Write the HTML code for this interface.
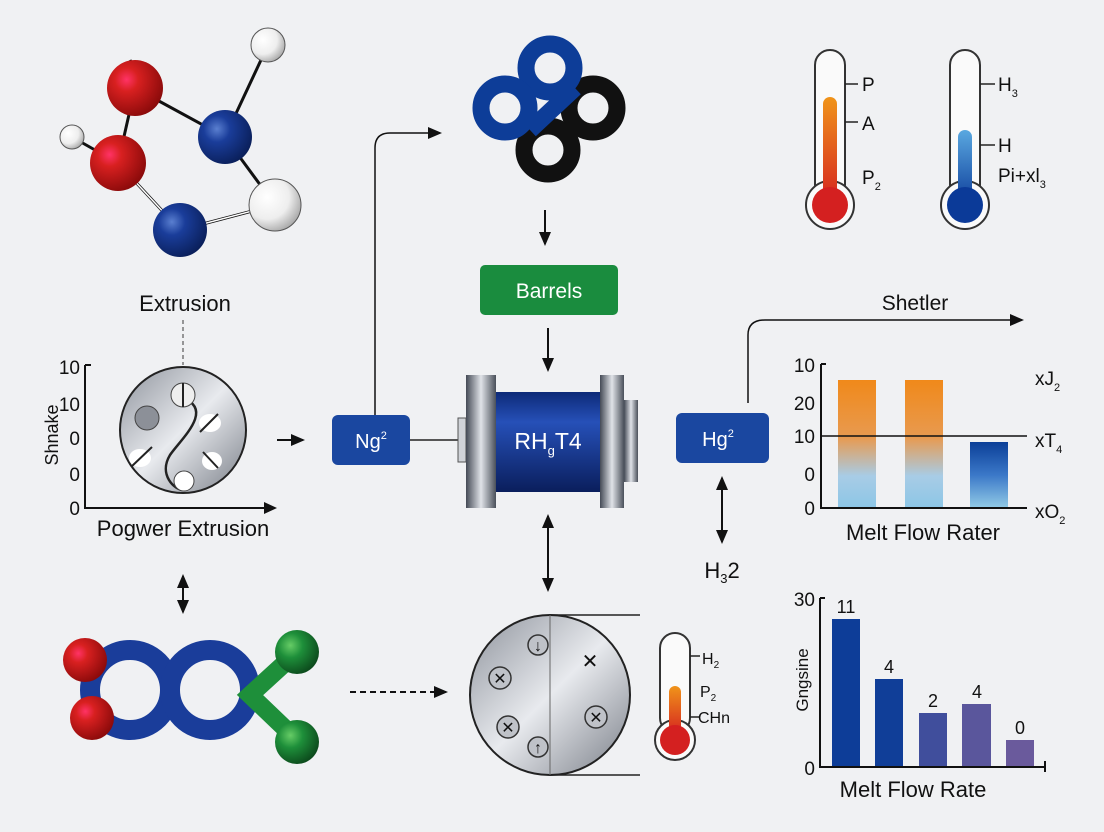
<!DOCTYPE html>
<html><head><meta charset="utf-8"><style>
html,body{margin:0;padding:0;background:#f0f1f3;}
svg{display:block;font-family:"Liberation Sans",sans-serif;}
</style></head><body>
<svg width="1104" height="832" viewBox="0 0 1104 832" xmlns="http://www.w3.org/2000/svg">
<defs>
<radialGradient id="red" cx="35%" cy="35%" r="70%"><stop offset="0" stop-color="#f36"/><stop offset="0.3" stop-color="#d82020"/><stop offset="1" stop-color="#8a0a0a"/></radialGradient>
<radialGradient id="blu" cx="35%" cy="35%" r="70%"><stop offset="0" stop-color="#5a7fd0"/><stop offset="0.35" stop-color="#1a3d9a"/><stop offset="1" stop-color="#0a1f5a"/></radialGradient>
<radialGradient id="wht" cx="35%" cy="35%" r="70%"><stop offset="0" stop-color="#fff"/><stop offset="0.6" stop-color="#eee"/><stop offset="1" stop-color="#aaa"/></radialGradient>
<radialGradient id="grn" cx="35%" cy="35%" r="70%"><stop offset="0" stop-color="#6c6"/><stop offset="0.4" stop-color="#1e8f3a"/><stop offset="1" stop-color="#0c4a1c"/></radialGradient>
<linearGradient id="disc" x1="0" y1="0" x2="1" y2="1"><stop offset="0" stop-color="#8e939c"/><stop offset="0.5" stop-color="#e8eaee"/><stop offset="1" stop-color="#7a7f88"/></linearGradient>
<linearGradient id="body" x1="0" y1="0" x2="0" y2="1"><stop offset="0" stop-color="#0d2a78"/><stop offset="0.3" stop-color="#2650b8"/><stop offset="1" stop-color="#0a1e5c"/></linearGradient>
<linearGradient id="flange" x1="0" y1="0" x2="1" y2="0"><stop offset="0" stop-color="#444a55"/><stop offset="0.5" stop-color="#e0e3e8"/><stop offset="1" stop-color="#4a505a"/></linearGradient>
<linearGradient id="orb" x1="0" y1="0" x2="0" y2="1"><stop offset="0" stop-color="#f0891a"/><stop offset="0.45" stop-color="#e89a50"/><stop offset="0.75" stop-color="#a8cce6"/><stop offset="1" stop-color="#8cc6e6"/></linearGradient>
<linearGradient id="bb" x1="0" y1="0" x2="0" y2="1"><stop offset="0" stop-color="#0b3f98"/><stop offset="0.5" stop-color="#3b78c8"/><stop offset="1" stop-color="#92cbe6"/></linearGradient>
<linearGradient id="tr" x1="0" y1="0" x2="0" y2="1"><stop offset="0" stop-color="#f0941a"/><stop offset="1" stop-color="#d42020"/></linearGradient>
<linearGradient id="tb" x1="0" y1="0" x2="0" y2="1"><stop offset="0" stop-color="#5aa8e0"/><stop offset="1" stop-color="#0b3a98"/></linearGradient>
<marker id="ah" markerWidth="14" markerHeight="14" refX="12" refY="7" orient="auto" markerUnits="userSpaceOnUse"><path d="M0,1 L14,7 L0,13 z" fill="#111"/></marker>
<marker id="ahs" markerWidth="14" markerHeight="14" refX="2" refY="7" orient="auto" markerUnits="userSpaceOnUse"><path d="M14,1 L0,7 L14,13 z" fill="#111"/></marker>
</defs>
<rect width="1104" height="832" fill="#f0f1f3"/>

<g stroke="#111" stroke-width="3" fill="none">
<line x1="135" y1="88" x2="118" y2="163"/><line x1="135" y1="88" x2="225" y2="137"/>
<line x1="225" y1="137" x2="268" y2="45"/><line x1="72" y1="137" x2="118" y2="163"/>
<line x1="118" y1="163" x2="180" y2="230"/><line x1="225" y1="137" x2="275" y2="205"/>
<line x1="180" y1="230" x2="275" y2="205"/><line x1="130" y1="60" x2="140" y2="80"/>
</g>
<g stroke="#fff" stroke-width="1.5"><line x1="118" y1="163" x2="180" y2="230"/><line x1="180" y1="230" x2="275" y2="205"/></g>
<circle cx="268" cy="45" r="17" fill="url(#wht)" stroke="#555"/>
<circle cx="72" cy="137" r="12" fill="url(#wht)" stroke="#555"/>
<circle cx="135" cy="88" r="28" fill="url(#red)"/>
<circle cx="118" cy="163" r="28" fill="url(#red)"/>
<circle cx="225" cy="137" r="27" fill="url(#blu)"/>
<circle cx="275" cy="205" r="26" fill="url(#wht)" stroke="#555"/>
<circle cx="180" cy="230" r="27" fill="url(#blu)"/>

<text x="185" y="311" font-size="22" text-anchor="middle" fill="#111">Extrusion</text>
<line x1="183" y1="320" x2="183" y2="365" stroke="#777" stroke-width="1.5" stroke-dasharray="4,3"/>

<g stroke="#111" stroke-width="2" fill="none"><polyline points="85,365 85,508 268,508"/><line x1="85" y1="365" x2="91" y2="365"/></g>
<path d="M264,502 L277,508 L264,514z" fill="#111"/>
<g font-size="19" fill="#111" text-anchor="end"><text x="80" y="374">10</text><text x="80" y="411">10</text><text x="80" y="445">0</text><text x="80" y="481">0</text><text x="80" y="515">0</text></g>
<text transform="translate(58,435) rotate(-90)" font-size="18" text-anchor="middle" fill="#111">Shnake</text>
<circle cx="183" cy="430" r="63" fill="url(#disc)" stroke="#222" stroke-width="2"/>
<path d="M183,398 C215,410 180,440 170,455 C158,475 175,490 183,490" stroke="#222" stroke-width="2.5" fill="none"/>
<circle cx="183" cy="395" r="12" fill="#eee" stroke="#444"/><line x1="183" y1="383" x2="183" y2="407" stroke="#222" stroke-width="2"/>
<circle cx="147" cy="418" r="12" fill="#8c9098" stroke="#444"/>
<ellipse cx="210" cy="423" rx="11" ry="9" fill="#fff"/><line x1="200" y1="432" x2="218" y2="414" stroke="#222" stroke-width="2"/>
<ellipse cx="140" cy="458" rx="11" ry="9" fill="#fff"/><line x1="131" y1="467" x2="152" y2="447" stroke="#222" stroke-width="2"/>
<ellipse cx="212" cy="461" rx="10" ry="9" fill="#fff"/><line x1="203" y1="452" x2="218" y2="468" stroke="#222" stroke-width="2"/>
<circle cx="184" cy="481" r="10" fill="#fff" stroke="#444"/>
<text x="183" y="536" font-size="22" text-anchor="middle" fill="#111">Pogwer Extrusion</text>
<line x1="183" y1="576" x2="183" y2="612" stroke="#111" stroke-width="2" marker-end="url(#ah)" marker-start="url(#ahs)"/>

<circle cx="130" cy="690" r="40" fill="none" stroke="#1a3d9a" stroke-width="20"/>
<circle cx="210" cy="690" r="40" fill="none" stroke="#1a3d9a" stroke-width="20"/>
<polyline points="297,652 250,695 297,740" fill="none" stroke="#1e8f3a" stroke-width="18"/>
<circle cx="85" cy="660" r="22" fill="url(#red)"/>
<circle cx="92" cy="718" r="22" fill="url(#red)"/>
<circle cx="297" cy="652" r="22" fill="url(#grn)"/>
<circle cx="297" cy="742" r="22" fill="url(#grn)"/>

<line x1="277" y1="440" x2="303" y2="440" stroke="#111" stroke-width="2" marker-end="url(#ah)"/>
<line x1="350" y1="692" x2="446" y2="692" stroke="#111" stroke-width="2" stroke-dasharray="6,4" marker-end="url(#ah)"/>

<rect x="332" y="415" width="78" height="50" rx="6" fill="#1a47a0"/>
<text x="371" y="448" font-size="20" fill="#fff" text-anchor="middle">Ng<tspan font-size="11" dy="-9">2</tspan></text>
<line x1="410" y1="440" x2="462" y2="440" stroke="#222" stroke-width="1.5"/>
<path d="M375,415 L375,148 Q375,133 390,133 L440,133" fill="none" stroke="#111" stroke-width="1.5" marker-end="url(#ah)"/>

<g fill="none" stroke-width="17">
<circle cx="593" cy="108" r="24" stroke="#111"/>
<circle cx="548" cy="150" r="24" stroke="#111"/>
<circle cx="550" cy="68" r="24" stroke="#0d3d98"/>
<circle cx="505" cy="108" r="24" stroke="#0d3d98"/>
<line x1="530" y1="130" x2="575" y2="88" stroke="#0d3d98"/>
</g>
<line x1="545" y1="210" x2="545" y2="244" stroke="#111" stroke-width="2" marker-end="url(#ah)"/>
<rect x="480" y="265" width="138" height="50" rx="5" fill="#1a8c3e"/>
<text x="549" y="298" font-size="21" fill="#fff" text-anchor="middle">Barrels</text>
<line x1="548" y1="328" x2="548" y2="370" stroke="#111" stroke-width="2" marker-end="url(#ah)"/>

<rect x="458" y="418" width="8" height="44" fill="#d0d3d8" stroke="#555"/>
<rect x="466" y="375" width="30" height="133" fill="url(#flange)"/>
<rect x="496" y="392" width="104" height="100" fill="url(#body)"/>
<rect x="600" y="375" width="24" height="133" fill="url(#flange)"/>
<rect x="624" y="400" width="14" height="82" fill="url(#flange)"/>
<text x="548" y="449" font-size="23" fill="#fff" text-anchor="middle">RH<tspan font-size="13" dy="6">g</tspan><tspan dy="-6">T4</tspan></text>
<line x1="548" y1="516" x2="548" y2="590" stroke="#111" stroke-width="2" marker-end="url(#ah)" marker-start="url(#ahs)"/>

<line x1="550" y1="615" x2="640" y2="615" stroke="#222" stroke-width="1.5"/>
<line x1="550" y1="775" x2="640" y2="775" stroke="#222" stroke-width="1.5"/>
<circle cx="550" cy="695" r="80" fill="url(#disc)" stroke="#222" stroke-width="2"/>
<line x1="550" y1="615" x2="550" y2="775" stroke="#666" stroke-width="1"/>
<g fill="#bfc2c8" stroke="#333" stroke-width="1.5">
<circle cx="538" cy="645" r="10"/><circle cx="500" cy="678" r="11"/><circle cx="508" cy="727" r="11"/><circle cx="596" cy="717" r="11"/><circle cx="538" cy="747" r="10"/>
</g>
<g font-size="16" fill="#111" text-anchor="middle"><text x="538" y="651">↓</text><text x="500" y="684">✕</text><text x="508" y="733">✕</text><text x="596" y="723">✕</text><text x="538" y="753">↑</text><text x="590" y="668" font-size="20">✕</text></g>

<rect x="660" y="633" width="30" height="100" rx="15" fill="#fafafa" stroke="#333" stroke-width="2"/>
<circle cx="675" cy="740" r="20" fill="#fafafa" stroke="#333" stroke-width="2"/>
<rect x="669" y="686" width="12" height="50" rx="6" fill="url(#tr)"/>
<circle cx="675" cy="740" r="15" fill="#d42020"/>
<g stroke="#222" stroke-width="1.5"><line x1="690" y1="656" x2="700" y2="656"/><line x1="690" y1="717" x2="700" y2="717"/></g>
<g font-size="16" fill="#111"><text x="702" y="664">H<tspan font-size="10" dy="4">2</tspan></text><text x="700" y="697">P<tspan font-size="10" dy="4">2</tspan></text><text x="698" y="723">CHn</text></g>

<rect x="676" y="413" width="93" height="50" rx="6" fill="#1a47a0"/>
<text x="718" y="446" font-size="20" fill="#fff" text-anchor="middle">Hg<tspan font-size="11" dy="-9">2</tspan></text>
<path d="M748,403 L748,335 Q748,320 765,320 L1022,320" fill="none" stroke="#111" stroke-width="1.5" marker-end="url(#ah)"/>
<text x="915" y="310" font-size="21" text-anchor="middle" fill="#111">Shetler</text>
<line x1="722" y1="478" x2="722" y2="542" stroke="#111" stroke-width="2" marker-end="url(#ah)" marker-start="url(#ahs)"/>
<text x="722" y="578" font-size="22" text-anchor="middle" fill="#111">H<tspan font-size="13" dy="5">3</tspan><tspan dy="-5">2</tspan></text>

<rect x="838" y="380" width="38" height="128" fill="url(#orb)"/>
<rect x="905" y="380" width="38" height="128" fill="url(#orb)"/>
<rect x="970" y="442" width="38" height="66" fill="url(#bb)"/>
<g stroke="#111" stroke-width="2" fill="none"><polyline points="821,364 821,508 1027,508"/><line x1="821" y1="364" x2="826" y2="364"/><line x1="821" y1="436" x2="1027" y2="436" stroke-width="1.5"/></g>
<g font-size="19" fill="#111" text-anchor="end"><text x="815" y="372">10</text><text x="815" y="410">20</text><text x="815" y="443">10</text><text x="815" y="481">0</text><text x="815" y="515">0</text></g>
<g font-size="19" fill="#111"><text x="1035" y="385">xJ<tspan font-size="11" dy="6">2</tspan></text><text x="1035" y="447">xT<tspan font-size="11" dy="6">4</tspan></text><text x="1035" y="518">xO<tspan font-size="11" dy="6">2</tspan></text></g>
<text x="923" y="540" font-size="22" text-anchor="middle" fill="#111">Melt Flow Rater</text>

<rect x="832" y="619" width="28" height="148" fill="#0d3d98"/>
<rect x="875" y="679" width="28" height="88" fill="#103e98"/>
<rect x="919" y="713" width="28" height="54" fill="#404e9c"/>
<rect x="962" y="704" width="29" height="63" fill="#5a569c"/>
<rect x="1006" y="740" width="28" height="27" fill="#6a5a9c"/>
<g stroke="#111" stroke-width="2" fill="none"><polyline points="820,598 820,767 1045,767"/><line x1="820" y1="598" x2="825" y2="598"/><line x1="1045" y1="761" x2="1045" y2="772"/></g>
<g font-size="19" fill="#111" text-anchor="end"><text x="815" y="606">30</text><text x="815" y="775">0</text></g>
<g font-size="18" fill="#111" text-anchor="middle"><text x="846" y="613">11</text><text x="889" y="673">4</text><text x="933" y="707">2</text><text x="977" y="698">4</text><text x="1020" y="734">0</text></g>
<text transform="translate(808,680) rotate(-90)" font-size="17" text-anchor="middle" fill="#111">Gngsine</text>
<text x="913" y="797" font-size="22" text-anchor="middle" fill="#111">Melt Flow Rate</text>

<rect x="815" y="50" width="30" height="150" rx="15" fill="#fafafa" stroke="#333" stroke-width="2"/>
<circle cx="830" cy="205" r="24" fill="#fafafa" stroke="#333" stroke-width="2"/>
<rect x="823" y="97" width="14" height="110" rx="7" fill="url(#tr)"/>
<circle cx="830" cy="205" r="18" fill="#d42020"/>
<g stroke="#222" stroke-width="1.5"><line x1="845" y1="84" x2="858" y2="84"/><line x1="845" y1="122" x2="858" y2="122"/></g>
<g font-size="19" fill="#111"><text x="862" y="91">P</text><text x="862" y="130">A</text><text x="862" y="184">P<tspan font-size="11" dy="6">2</tspan></text></g>

<rect x="950" y="50" width="30" height="150" rx="15" fill="#fafafa" stroke="#333" stroke-width="2"/>
<circle cx="965" cy="205" r="24" fill="#fafafa" stroke="#333" stroke-width="2"/>
<rect x="958" y="130" width="14" height="77" rx="7" fill="url(#tb)"/>
<circle cx="965" cy="205" r="18" fill="#0b3a98"/>
<g stroke="#222" stroke-width="1.5"><line x1="980" y1="84" x2="995" y2="84"/><line x1="980" y1="145" x2="995" y2="145"/></g>
<g font-size="19" fill="#111"><text x="998" y="91">H<tspan font-size="11" dy="6">3</tspan></text><text x="998" y="152">H</text><text x="998" y="182">Pi+xl<tspan font-size="11" dy="6">3</tspan></text></g>
</svg>
</body></html>
